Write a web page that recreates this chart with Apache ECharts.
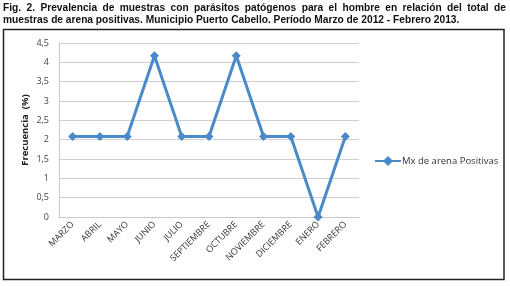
<!DOCTYPE html>
<html><head><meta charset="utf-8">
<script src="https://cdn.jsdelivr.net/npm/echarts@6/dist/echarts.min.js"></script>
<style>html,body{margin:0;padding:0;background:#fff}#c{width:510px;height:286px}</style>
</head><body><div id="c"></div>
<script>
const titleLines = [
  "Fig. 2. Prevalencia de muestras con parásitos patógenos para el hombre en relación del total de",
  "muestras de arena positivas. Municipio Puerto Cabello. Período Marzo de 2012 - Febrero 2013."
];
const categories = ["MARZO","ABRIL","MAYO","JUNIO","JULIO","SEPTIEMBRE","OCTUBRE","NOVIEMBRE","DICIEMBRE","ENERO","FEBRERO"];
const seriesName = "Mx de arena Positivas";
const values = [2.08, 2.08, 2.08, 4.17, 2.08, 2.08, 4.17, 2.08, 2.08, 0, 2.08];
const yName = "Frecuencia  (%)";

const titleFont = 'bold 10.2px "Liberation Sans", Arial';
// justify first title line across the box width
function justified(line, x0, x1, y) {
  const ctx = document.createElement('canvas').getContext('2d');
  ctx.font = titleFont;
  const words = line.split(' ');
  const total = words.reduce((s, w) => s + ctx.measureText(w).width, 0);
  const gap = (x1 - x0 - total) / (words.length - 1);
  let x = x0;
  return words.map(w => {
    const el = {type: 'text', x: x, y: y, style: {text: w, font: titleFont, fill: '#111'}};
    x += ctx.measureText(w).width + gap;
    return el;
  });
}

const chart = echarts.init(document.getElementById('c'), null, {renderer: 'canvas'});
chart.setOption({
  animation: false,
  backgroundColor: '#fff',
  graphic: [
    {type: 'rect', shape: {x: 3.5, y: 29.5, width: 500.5, height: 250}, style: {fill: 'none', stroke: '#222', lineWidth: 1.5}, z: -1},
    ...justified(titleLines[0], 3, 506, 3),
    {type: 'text', x: 3, y: 15, style: {text: titleLines[1], font: titleFont, fill: '#111'}}
  ],
  grid: {left: 59, top: 43, width: 300, height: 174, containLabel: false},
  legend: {
    data: [{name: seriesName, icon: 'path://M0,4 L9,4 L13,0 L17,4 L26,4 L26,6 L17,6 L13,10 L9,6 L0,6 Z'}],
    left: 370, top: 151, itemWidth: 26, itemHeight: 10, itemGap: 2,
    textStyle: {fontFamily: '"Open Sans", Calibri, sans-serif', fontSize: 9.5, color: '#333', padding: [0,0,0,-4]}
  },
  xAxis: {
    type: 'category', data: categories, boundaryGap: true,
    axisLine: {show: true, lineStyle: {color: '#c8c8c8'}},
    axisTick: {show: false},
    axisLabel: {rotate: 45, interval: 0, fontSize: 9, color: '#333', fontFamily: '"Open Sans", Calibri, sans-serif', margin: 6}
  },
  yAxis: {
    type: 'value', min: 0, max: 4.5, interval: 0.5,
    name: yName, nameLocation: 'middle', nameGap: 29, nameRotate: 90, nameMoveOverlap: false,
    nameTextStyle: {fontWeight: 'bold', fontSize: 9.5, color: '#222', fontFamily: '"Open Sans", Calibri, sans-serif'},
    axisLine: {show: true, lineStyle: {color: '#c8c8c8'}},
    axisTick: {show: false},
    splitLine: {lineStyle: {color: '#cfcfcf', width: 1}},
    axisLabel: {fontSize: 9, color: '#444', margin: 10, fontFamily: '"Open Sans", Calibri, sans-serif',
      formatter: v => String(v).replace('.', ',')}
  },
  series: [{
    name: seriesName, type: 'line', data: values,
    symbol: 'diamond', symbolSize: 9,
    lineStyle: {color: '#4a8ac8', width: 3},
    itemStyle: {color: '#4a8ac8'}
  }]
});
</script></body></html>
